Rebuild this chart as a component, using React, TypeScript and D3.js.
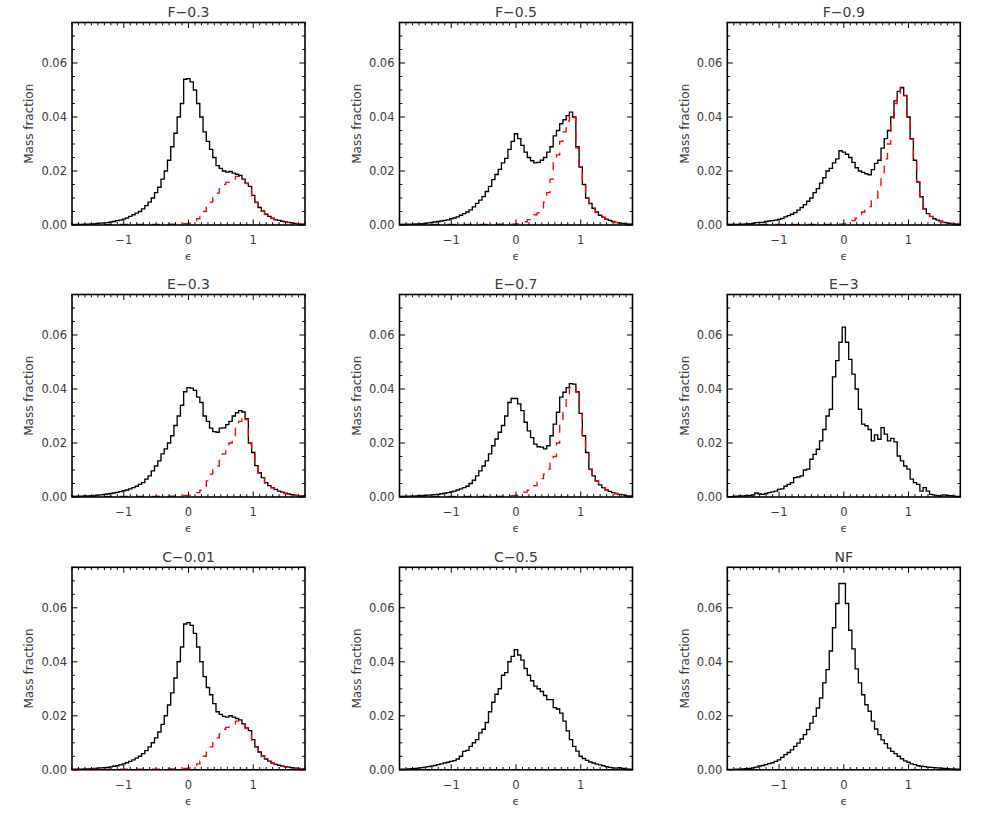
import React from "react";
import * as d3 from "d3";

// Histogram bins: centres from -1.80 to 1.80, step 0.05 (73 bins)
const BIN_START = -1.8;
const BIN_WIDTH = 0.05;
const BIN_COUNT = 73;

const X_DOMAIN: [number, number] = [-1.8, 1.8];
const Y_DOMAIN: [number, number] = [0, 0.075];
const X_TICKS = [-1, 0, 1];
const Y_TICKS = [0, 0.02, 0.04, 0.06];

const TITLES = ["F\u22120.3", "F\u22120.5", "F\u22120.9", "E\u22120.3", "E\u22120.7", "E\u22123", "C\u22120.01", "C\u22120.5", "NF"];

const F03 = [
  0.0001, 0.0001, 0.0002, 0.0002, 0.0003, 0.0003, 0.0004, 0.0005, 0.0006, 0.0007,
  0.0008, 0.0009, 0.0011, 0.0013, 0.0016, 0.0018, 0.0022, 0.0026, 0.0032, 0.0038,
  0.0044, 0.0050, 0.0060, 0.0072, 0.0085, 0.0100, 0.0120, 0.0140, 0.0170, 0.0200,
  0.0240, 0.0290, 0.0340, 0.0400, 0.0450, 0.0540, 0.0542, 0.0530, 0.0500, 0.0450,
  0.0400, 0.0345, 0.0310, 0.0280, 0.0250, 0.0220, 0.0210, 0.0200, 0.0196, 0.0198,
  0.0192, 0.0188, 0.0184, 0.0170, 0.0155, 0.0143, 0.0110, 0.0085, 0.0065, 0.0052,
  0.0040, 0.0032, 0.0025, 0.0020, 0.0017, 0.0014, 0.0012, 0.0010, 0.0008, 0.0006,
  0.0005, 0.0003, 0.0002,
];
const F03_RED = [
  0.0002, 0.0002, 0.0002, 0.0002, 0.0002, 0.0002, 0.0002, 0.0002, 0.0002, 0.0002,
  0.0002, 0.0002, 0.0002, 0.0002, 0.0002, 0.0002, 0.0002, 0.0002, 0.0002, 0.0002,
  0.0002, 0.0002, 0.0002, 0.0002, 0.0002, 0.0002, 0.0002, 0.0002, 0.0003, 0.0003,
  0.0003, 0.0003, 0.0003, 0.0003, 0.0004, 0.0005, 0.0006, 0.0008, 0.0015, 0.0023,
  0.0033, 0.0050, 0.0073, 0.0085, 0.0105, 0.0118, 0.0135, 0.0150, 0.0158, 0.0162,
  0.0170, 0.0180, 0.0180, 0.0168, 0.0153, 0.0141, 0.0108, 0.0083, 0.0064, 0.0051,
  0.0039, 0.0031, 0.0024, 0.0019, 0.0016, 0.0013, 0.0011, 0.0009, 0.0007, 0.0005,
  0.0004, 0.0003, 0.0002,
];

const F05 = [
  0.0001, 0.0002, 0.0002, 0.0003, 0.0003, 0.0004, 0.0004, 0.0005, 0.0006, 0.0008,
  0.0010, 0.0011, 0.0013, 0.0015, 0.0017, 0.0019, 0.0023, 0.0026, 0.0030, 0.0036,
  0.0042, 0.0048, 0.0056, 0.0067, 0.0080, 0.0092, 0.0105, 0.0124, 0.0143, 0.0168,
  0.0187, 0.0206, 0.0230, 0.0247, 0.0280, 0.0310, 0.0338, 0.0320, 0.0295, 0.0270,
  0.0250, 0.0238, 0.0230, 0.0232, 0.0240, 0.0250, 0.0270, 0.0290, 0.0330, 0.0350,
  0.0375, 0.0390, 0.0405, 0.0418, 0.0400, 0.0290, 0.0215, 0.0150, 0.0100, 0.0080,
  0.0062, 0.0048, 0.0036, 0.0029, 0.0022, 0.0017, 0.0013, 0.0010, 0.0008, 0.0006,
  0.0004, 0.0003, 0.0002,
];
const F05_RED = [
  0.0002, 0.0002, 0.0002, 0.0002, 0.0002, 0.0002, 0.0002, 0.0002, 0.0002, 0.0002,
  0.0002, 0.0002, 0.0002, 0.0002, 0.0002, 0.0002, 0.0002, 0.0002, 0.0002, 0.0002,
  0.0002, 0.0002, 0.0002, 0.0002, 0.0002, 0.0002, 0.0002, 0.0002, 0.0002, 0.0002,
  0.0003, 0.0003, 0.0003, 0.0003, 0.0003, 0.0003, 0.0004, 0.0005, 0.0008, 0.0012,
  0.0020, 0.0030, 0.0038, 0.0045, 0.0060, 0.0085, 0.0120, 0.0170, 0.0240, 0.0260,
  0.0310, 0.0345, 0.0385, 0.0412, 0.0398, 0.0285, 0.0212, 0.0148, 0.0098, 0.0078,
  0.0060, 0.0046, 0.0035, 0.0028, 0.0021, 0.0016, 0.0012, 0.0009, 0.0007, 0.0005,
  0.0004, 0.0003, 0.0002,
];

const F09 = [
  0.0001, 0.0002, 0.0002, 0.0002, 0.0003, 0.0003, 0.0004, 0.0005, 0.0006, 0.0009,
  0.0010, 0.0010, 0.0013, 0.0015, 0.0016, 0.0018, 0.0021, 0.0024, 0.0030, 0.0035,
  0.0040, 0.0046, 0.0055, 0.0065, 0.0075, 0.0088, 0.0100, 0.0120, 0.0135, 0.0155,
  0.0175, 0.0200, 0.0210, 0.0230, 0.0245, 0.0275, 0.0270, 0.0262, 0.0250, 0.0232,
  0.0212, 0.0200, 0.0195, 0.0190, 0.0186, 0.0205, 0.0228, 0.0240, 0.0285, 0.0320,
  0.0350, 0.0400, 0.0460, 0.0495, 0.0510, 0.0480, 0.0400, 0.0320, 0.0240, 0.0160,
  0.0105, 0.0060, 0.0042, 0.0032, 0.0023, 0.0018, 0.0014, 0.0010, 0.0008, 0.0006,
  0.0004, 0.0003, 0.0002,
];
const F09_RED = [
  0.0002, 0.0002, 0.0002, 0.0002, 0.0002, 0.0002, 0.0002, 0.0002, 0.0002, 0.0002,
  0.0002, 0.0002, 0.0002, 0.0002, 0.0002, 0.0002, 0.0002, 0.0002, 0.0002, 0.0002,
  0.0002, 0.0002, 0.0002, 0.0002, 0.0002, 0.0002, 0.0002, 0.0002, 0.0002, 0.0002,
  0.0002, 0.0002, 0.0002, 0.0002, 0.0003, 0.0003, 0.0004, 0.0006, 0.0010, 0.0016,
  0.0025, 0.0035, 0.0048, 0.0055, 0.0068, 0.0090, 0.0100, 0.0125, 0.0175, 0.0245,
  0.0300, 0.0380, 0.0450, 0.0488, 0.0507, 0.0478, 0.0398, 0.0318, 0.0238, 0.0158,
  0.0103, 0.0059, 0.0041, 0.0031, 0.0022, 0.0017, 0.0013, 0.0009, 0.0007, 0.0005,
  0.0004, 0.0003, 0.0002,
];

const E03 = [
  0.0002, 0.0002, 0.0003, 0.0003, 0.0004, 0.0004, 0.0005, 0.0006, 0.0007, 0.0008,
  0.0010, 0.0011, 0.0013, 0.0015, 0.0017, 0.0020, 0.0023, 0.0026, 0.0030, 0.0035,
  0.0040, 0.0047, 0.0053, 0.0066, 0.0078, 0.0097, 0.0115, 0.0134, 0.0160, 0.0178,
  0.0200, 0.0227, 0.0265, 0.0300, 0.0340, 0.0390, 0.0405, 0.0403, 0.0395, 0.0370,
  0.0350, 0.0300, 0.0280, 0.0255, 0.0242, 0.0240, 0.0255, 0.0256, 0.0268, 0.0280,
  0.0300, 0.0312, 0.0320, 0.0315, 0.0290, 0.0200, 0.0165, 0.0116, 0.0090, 0.0072,
  0.0053, 0.0042, 0.0035, 0.0028, 0.0022, 0.0018, 0.0014, 0.0011, 0.0009, 0.0007,
  0.0005, 0.0004, 0.0003,
];
const E03_RED = [
  0.0002, 0.0002, 0.0002, 0.0002, 0.0002, 0.0002, 0.0002, 0.0002, 0.0002, 0.0002,
  0.0002, 0.0002, 0.0002, 0.0002, 0.0002, 0.0002, 0.0002, 0.0002, 0.0002, 0.0002,
  0.0002, 0.0002, 0.0002, 0.0002, 0.0002, 0.0002, 0.0002, 0.0003, 0.0003, 0.0003,
  0.0003, 0.0003, 0.0004, 0.0004, 0.0005, 0.0006, 0.0007, 0.0009, 0.0012, 0.0016,
  0.0025, 0.0040, 0.0060, 0.0085, 0.0105, 0.0115, 0.0140, 0.0160, 0.0178, 0.0200,
  0.0227, 0.0255, 0.0280, 0.0305, 0.0287, 0.0198, 0.0163, 0.0114, 0.0089, 0.0071,
  0.0052, 0.0041, 0.0034, 0.0027, 0.0021, 0.0017, 0.0013, 0.0010, 0.0008, 0.0006,
  0.0005, 0.0004, 0.0003,
];

const E07 = [
  0.0001, 0.0002, 0.0002, 0.0003, 0.0004, 0.0004, 0.0005, 0.0006, 0.0006, 0.0007,
  0.0008, 0.0009, 0.0010, 0.0012, 0.0014, 0.0016, 0.0019, 0.0022, 0.0026, 0.0030,
  0.0035, 0.0040, 0.0050, 0.0062, 0.0078, 0.0097, 0.0115, 0.0134, 0.0160, 0.0190,
  0.0215, 0.0240, 0.0265, 0.0300, 0.0350, 0.0365, 0.0365, 0.0345, 0.0320, 0.0277,
  0.0245, 0.0220, 0.0196, 0.0186, 0.0185, 0.0178, 0.0190, 0.0227, 0.0270, 0.0314,
  0.0370, 0.0388, 0.0405, 0.0420, 0.0418, 0.0390, 0.0310, 0.0227, 0.0165, 0.0103,
  0.0078, 0.0060, 0.0045, 0.0035, 0.0027, 0.0021, 0.0016, 0.0013, 0.0010, 0.0008,
  0.0005, 0.0004, 0.0003,
];
const E07_RED = [
  0.0002, 0.0002, 0.0002, 0.0002, 0.0002, 0.0002, 0.0002, 0.0002, 0.0002, 0.0002,
  0.0002, 0.0002, 0.0002, 0.0002, 0.0002, 0.0002, 0.0002, 0.0002, 0.0002, 0.0002,
  0.0002, 0.0002, 0.0002, 0.0002, 0.0002, 0.0002, 0.0002, 0.0002, 0.0002, 0.0002,
  0.0002, 0.0002, 0.0003, 0.0003, 0.0003, 0.0005, 0.0006, 0.0008, 0.0013, 0.0018,
  0.0025, 0.0030, 0.0042, 0.0055, 0.0068, 0.0085, 0.0103, 0.0125, 0.0150, 0.0200,
  0.0270, 0.0330, 0.0375, 0.0405, 0.0412, 0.0388, 0.0308, 0.0225, 0.0163, 0.0102,
  0.0077, 0.0059, 0.0044, 0.0034, 0.0026, 0.0020, 0.0015, 0.0012, 0.0009, 0.0007,
  0.0005, 0.0004, 0.0003,
];

const E3 = [
  0.0001, 0.0001, 0.0002, 0.0003, 0.0004, 0.0004, 0.0005, 0.0006, 0.0008, 0.0015,
  0.0011, 0.0010, 0.0013, 0.0016, 0.0019, 0.0022, 0.0028, 0.0030, 0.0040, 0.0047,
  0.0053, 0.0072, 0.0074, 0.0078, 0.0100, 0.0103, 0.0140, 0.0158, 0.0177, 0.0208,
  0.0250, 0.0300, 0.0325, 0.0445, 0.0505, 0.0573, 0.0629, 0.0573, 0.0510, 0.0455,
  0.0400, 0.0325, 0.0270, 0.0264, 0.0250, 0.0208, 0.0230, 0.0214, 0.0257, 0.0233,
  0.0208, 0.0217, 0.0204, 0.0152, 0.0134, 0.0115, 0.0103, 0.0066, 0.0053, 0.0047,
  0.0022, 0.0035, 0.0022, 0.0010, 0.0007, 0.0005, 0.0003, 0.0008, 0.0006, 0.0005,
  0.0003, 0.0002, 0.0001,
];

const C001 = [
  0.0001, 0.0001, 0.0002, 0.0002, 0.0003, 0.0003, 0.0004, 0.0005, 0.0006, 0.0007,
  0.0008, 0.0009, 0.0011, 0.0013, 0.0015, 0.0018, 0.0022, 0.0026, 0.0031, 0.0037,
  0.0043, 0.0050, 0.0060, 0.0071, 0.0085, 0.0100, 0.0118, 0.0140, 0.0168, 0.0200,
  0.0240, 0.0285, 0.0340, 0.0400, 0.0455, 0.0540, 0.0545, 0.0535, 0.0505, 0.0455,
  0.0400, 0.0345, 0.0305, 0.0278, 0.0245, 0.0215, 0.0205, 0.0198, 0.0195, 0.0200,
  0.0195, 0.0190, 0.0185, 0.0170, 0.0155, 0.0145, 0.0112, 0.0086, 0.0066, 0.0052,
  0.0040, 0.0032, 0.0025, 0.0020, 0.0017, 0.0014, 0.0012, 0.0010, 0.0008, 0.0006,
  0.0005, 0.0003, 0.0002,
];
const C001_RED = [
  0.0002, 0.0002, 0.0002, 0.0002, 0.0002, 0.0002, 0.0002, 0.0002, 0.0002, 0.0002,
  0.0002, 0.0002, 0.0002, 0.0002, 0.0002, 0.0002, 0.0002, 0.0002, 0.0002, 0.0002,
  0.0002, 0.0002, 0.0002, 0.0002, 0.0002, 0.0002, 0.0002, 0.0002, 0.0003, 0.0003,
  0.0003, 0.0003, 0.0003, 0.0003, 0.0004, 0.0005, 0.0006, 0.0008, 0.0015, 0.0022,
  0.0032, 0.0050, 0.0070, 0.0085, 0.0103, 0.0118, 0.0133, 0.0150, 0.0157, 0.0162,
  0.0170, 0.0180, 0.0182, 0.0168, 0.0153, 0.0142, 0.0110, 0.0084, 0.0065, 0.0051,
  0.0039, 0.0031, 0.0024, 0.0019, 0.0016, 0.0013, 0.0011, 0.0009, 0.0007, 0.0005,
  0.0004, 0.0003, 0.0002,
];

const C05 = [
  0.0001, 0.0002, 0.0002, 0.0003, 0.0004, 0.0005, 0.0006, 0.0008, 0.0010, 0.0012,
  0.0014, 0.0016, 0.0019, 0.0022, 0.0025, 0.0028, 0.0031, 0.0034, 0.0040, 0.0050,
  0.0068, 0.0072, 0.0087, 0.0100, 0.0112, 0.0137, 0.0150, 0.0175, 0.0215, 0.0250,
  0.0280, 0.0300, 0.0350, 0.0360, 0.0400, 0.0420, 0.0445, 0.0425, 0.0406, 0.0375,
  0.0350, 0.0330, 0.0310, 0.0300, 0.0290, 0.0275, 0.0260, 0.0260, 0.0230, 0.0225,
  0.0210, 0.0180, 0.0144, 0.0112, 0.0087, 0.0069, 0.0050, 0.0042, 0.0035, 0.0029,
  0.0025, 0.0021, 0.0018, 0.0015, 0.0012, 0.0009, 0.0007, 0.0006, 0.0008, 0.0005,
  0.0003, 0.0002, 0.0001,
];

const NF = [
  0.0001, 0.0001, 0.0001, 0.0002, 0.0002, 0.0003, 0.0004, 0.0005, 0.0007, 0.0010,
  0.0014, 0.0016, 0.0019, 0.0023, 0.0026, 0.0031, 0.0037, 0.0046, 0.0056, 0.0064,
  0.0074, 0.0087, 0.0099, 0.0114, 0.0130, 0.0149, 0.0173, 0.0198, 0.0229, 0.0266,
  0.0322, 0.0371, 0.0440, 0.0526, 0.0616, 0.0690, 0.0690, 0.0616, 0.0517, 0.0448,
  0.0374, 0.0322, 0.0278, 0.0241, 0.0217, 0.0180, 0.0151, 0.0130, 0.0111, 0.0097,
  0.0080, 0.0068, 0.0060, 0.0050, 0.0041, 0.0033, 0.0028, 0.0022, 0.0019, 0.0015,
  0.0013, 0.0012, 0.0010, 0.0009, 0.0008, 0.0007, 0.0006, 0.0005, 0.0004, 0.0003,
  0.0003, 0.0002, 0.0001,
];

const BLACK_SERIES = [F03, F05, F09, E03, E07, E3, C001, C05, NF];
const RED_SERIES: (number[] | null)[] = [F03_RED, F05_RED, F09_RED, E03_RED, E07_RED, null, C001_RED, null, null];

// layout
const W = 981;
const H = 817;
const COL_LEFT = [72, 399.5, 727.3];
const ROW_TOP = [22.5, 294.5, 567.3];
const PW = 233;
const PH = 202.5;
const FONT = "'DejaVu Sans', 'Liberation Sans', sans-serif";
const TEXT = "#3a3a3a";

const binCenters = d3.range(BIN_COUNT).map((i) => BIN_START + i * BIN_WIDTH);

function Panel({ idx }: { idx: number }) {
  const col = idx % 3;
  const row = Math.floor(idx / 3);
  const left = COL_LEFT[col];
  const top = ROW_TOP[row];
  const x = d3.scaleLinear().domain(X_DOMAIN).range([0, PW]);
  const y = d3.scaleLinear().domain(Y_DOMAIN).range([PH, 0]);
  const line = d3
    .line<number>()
    .x((_, i) => x(binCenters[i]))
    .y((d) => y(d))
    .curve(d3.curveStep);
  const black = BLACK_SERIES[idx];
  const red = RED_SERIES[idx];
  const clipId = `clip-${idx}`;
  const xMinor = d3.range(-18, 19).map((k) => k / 10);
  const yMinor = d3.range(0, 16).map((k) => k * 0.005);
  const majL = 5.5;
  const minL = 2.8;
  return (
    <g transform={`translate(${left},${top})`}>
      <defs>
        <clipPath id={clipId}>
          <rect x={0} y={0} width={PW} height={PH} />
        </clipPath>
      </defs>
      <g clipPath={`url(#${clipId})`}>
        <path d={line(black) || ""} fill="none" stroke="#000" strokeWidth={1.35} />
        {red && (
          <path d={line(red) || ""} fill="none" stroke="#ff0000" strokeWidth={1.35} strokeDasharray="8,8" />
        )}
      </g>
      {/* ticks */}
      <g stroke="#000" strokeWidth={1}>
        {xMinor.map((v) => {
          const isMaj = X_TICKS.some((t) => Math.abs(t - v) < 1e-9);
          const L = isMaj ? majL : minL;
          const px = x(v);
          return (
            <g key={`xt${v}`}>
              <line x1={px} x2={px} y1={PH} y2={PH - L} />
              <line x1={px} x2={px} y1={0} y2={L} />
            </g>
          );
        })}
        {yMinor.map((v) => {
          const isMaj = Y_TICKS.some((t) => Math.abs(t - v) < 1e-9);
          const L = isMaj ? majL : minL;
          const py = y(v);
          return (
            <g key={`yt${v}`}>
              <line x1={0} x2={L} y1={py} y2={py} />
              <line x1={PW} x2={PW - L} y1={py} y2={py} />
            </g>
          );
        })}
      </g>
      <rect x={0} y={0} width={PW} height={PH} fill="none" stroke="#000" strokeWidth={1.6} />
      {/* tick labels */}
      <g fontFamily={FONT} fontSize={11.5} fill={TEXT}>
        {X_TICKS.map((t) => (
          <text key={`xl${t}`} x={x(t)} y={PH + 19} textAnchor="middle">
            {t < 0 ? `\u2212${Math.abs(t)}` : `${t}`}
          </text>
        ))}
        {Y_TICKS.map((t) => (
          <text key={`yl${t}`} x={-5} y={y(t)} dy="0.36em" textAnchor="end">
            {d3.format(".2f")(t)}
          </text>
        ))}
      </g>
      <text x={PW / 2} y={PH + 35} textAnchor="middle" fontFamily={FONT} fontSize={11} fill={TEXT}>
        {"\u03F5"}
      </text>
      <text
        transform={`translate(${-43},${PH / 2}) rotate(-90)`}
        textAnchor="middle"
        dy="0.36em"
        fontFamily={FONT}
        fontSize={12}
        fill={TEXT}
      >
        Mass fraction
      </text>
      <text x={PW / 2} y={-5.5} textAnchor="middle" fontFamily={FONT} fontSize={14} fill={TEXT}>
        {TITLES[idx]}
      </text>
    </g>
  );
}

export default function App() {
  return (
    <svg
      width={W}
      height={H}
      viewBox={`0 0 ${W} ${H}`}
      style={{ position: "absolute", left: 0, top: 0, display: "block", background: "#fff" }}
    >
      <rect x={0} y={0} width={W} height={H} fill="#fff" />
      {TITLES.map((_, i) => (
        <Panel key={i} idx={i} />
      ))}
    </svg>
  );
}
